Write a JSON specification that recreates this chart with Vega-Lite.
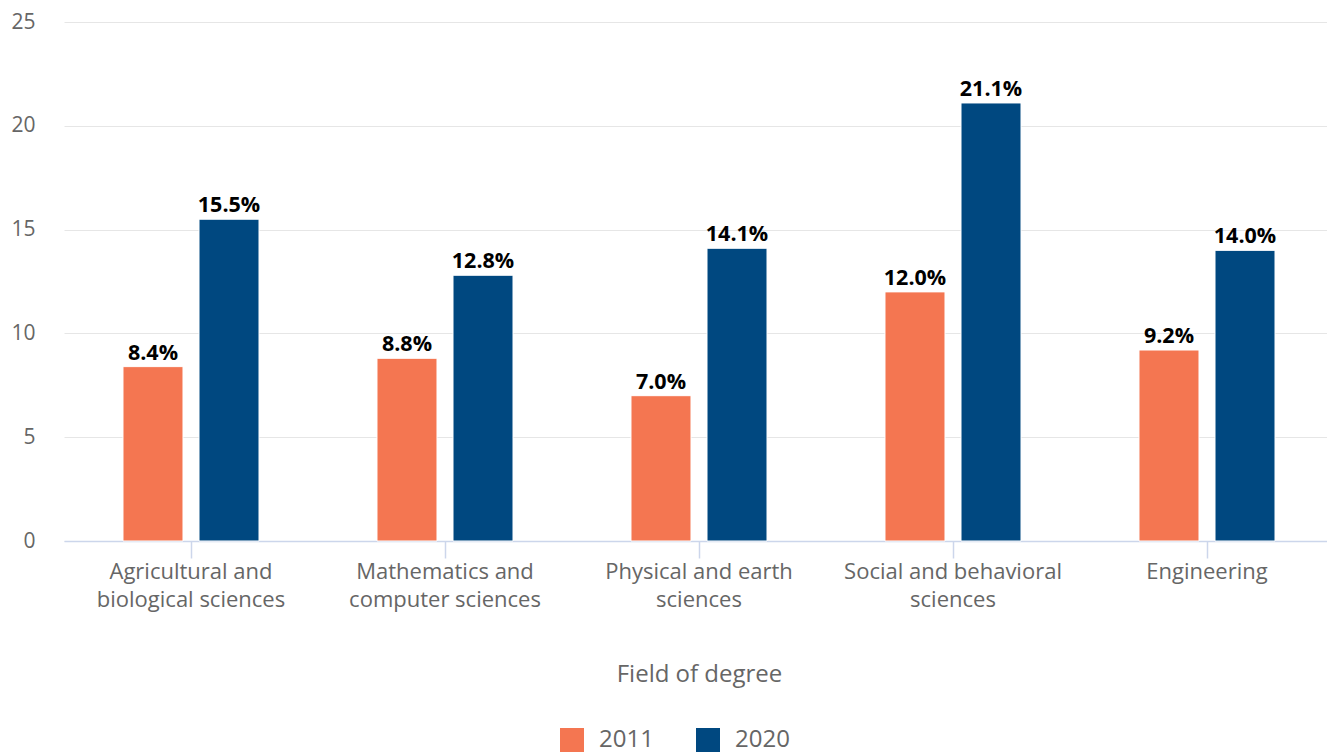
{
  "$schema": "https://vega.github.io/schema/vega-lite/v6.json",
  "width": 1270,
  "height": 519,
  "autosize": {"type": "none"},
  "padding": {"left": 64, "top": 22, "right": 0, "bottom": 212},
  "background": "white",
  "config": {"font": "Open Sans", "view": {"stroke": null}},
  "data": {
    "values": [
      {"field": "Agricultural and|biological sciences", "year": "2011", "value": 8.4},
      {"field": "Agricultural and|biological sciences", "year": "2020", "value": 15.5},
      {"field": "Mathematics and|computer sciences", "year": "2011", "value": 8.8},
      {"field": "Mathematics and|computer sciences", "year": "2020", "value": 12.8},
      {"field": "Physical and earth|sciences", "year": "2011", "value": 7.0},
      {"field": "Physical and earth|sciences", "year": "2020", "value": 14.1},
      {"field": "Social and behavioral|sciences", "year": "2011", "value": 12.0},
      {"field": "Social and behavioral|sciences", "year": "2020", "value": 21.1},
      {"field": "Engineering", "year": "2011", "value": 9.2},
      {"field": "Engineering", "year": "2020", "value": 14.0}
    ]
  },
  "transform": [{"calculate": "format(datum.value, '.1f') + '%'", "as": "label"}],
  "encoding": {
    "x": {
      "field": "field",
      "type": "nominal",
      "sort": null,
      "scale": {"paddingInner": 0, "paddingOuter": 0},
      "axis": {
        "labelExpr": "split(datum.value, '|')",
        "labelAngle": 0,
        "labelLimit": 0,
        "tickSize": 17,
        "tickColor": "#ccd6eb",
        "domainColor": "#ccd6eb",
        "domainWidth": 1.5,
        "tickWidth": 1.5,
        "labelColor": "#666666",
        "labelFontSize": 22,
        "labelLineHeight": 28,
        "labelPadding": 3,
        "title": "Field of degree",
        "titleFontSize": 24,
        "titleFontWeight": "normal",
        "titleColor": "#666666",
        "titlePadding": 52,
        "grid": false
      }
    },
    "xOffset": {
      "field": "year",
      "type": "nominal",
      "scale": {"paddingInner": 0.2105, "paddingOuter": 0.776}
    },
    "y": {
      "field": "value",
      "type": "quantitative",
      "scale": {"domain": [0, 25]},
      "axis": {
        "values": [0, 5, 10, 15, 20, 25],
        "grid": true,
        "gridColor": "#e6e6e6",
        "domain": false,
        "ticks": false,
        "labelFontSize": 21,
        "labelColor": "#666666",
        "labelPadding": 29,
        "title": null
      }
    }
  },
  "layer": [
    {
      "mark": {"type": "bar", "stroke": "white", "strokeWidth": 1},
      "encoding": {
        "color": {
          "field": "year",
          "type": "nominal",
          "scale": {"domain": ["2011", "2020"], "range": ["#f47651", "#004880"]},
          "legend": {
            "title": null,
            "orient": "none",
            "legendX": 496,
            "legendY": 706,
            "direction": "horizontal",
            "symbolType": "square",
            "symbolSize": 576,
            "symbolStrokeWidth": 0,
            "labelFontSize": 24,
            "labelColor": "#666666",
            "labelOffset": 15,
            "columnPadding": 42
          }
        }
      }
    },
    {
      "mark": {"type": "text", "dy": -7, "baseline": "alphabetic", "fontWeight": "bold", "fontSize": 21.5, "color": "black"},
      "encoding": {"text": {"field": "label"}}
    }
  ]
}
